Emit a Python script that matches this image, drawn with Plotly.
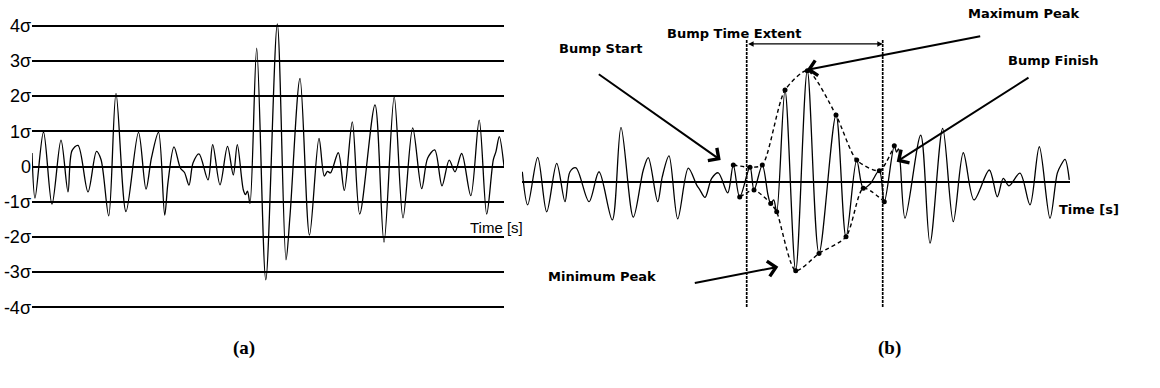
import plotly.graph_objects as go

# ---- (a) signal normalised by its standard deviation ----
sigma_levels = [-4, -3, -2, -1, 0, 1, 2, 3, 4]
sigma_labels = ["-4σ", "-3σ", "-2σ", "-1σ", "0", "1σ", "2σ", "3σ", "4σ"]

t_a = [0.0, 0.3, 1.15, 2.0, 2.9, 3.6, 4.0, 4.6, 5.6, 6.45, 6.9, 7.67, 8.4, 9.4,
       10.65, 11.4, 11.95, 12.65, 13.27, 13.6, 14.2, 14.85, 15.25, 15.7, 16.1,
       16.7, 17.6, 18.07, 18.8, 19.55, 20.13, 20.53, 21.13, 21.35, 21.55, 21.8,
       22.47, 23.38, 24.53, 25.4, 25.8, 26.8, 27.75, 28.7, 29.23, 29.55, 29.85,
       30.63, 31.23, 32.03, 32.77, 34.3, 35.2, 36.22, 37.1, 38.07, 38.97, 39.57,
       40.27, 41.0, 41.72, 42.3, 42.97, 43.88, 44.72, 45.47, 46.13, 46.4, 46.73,
       47.2]
v_a = [0.38, -0.9, 0.98, -1.07, 0.75, -0.72, 0.45, 0.6, -0.72, 0.43, 0.2, -1.4,
       2.08, -1.28, 0.97, -0.64, 0.25, 0.97, -1.38, -0.45, 0.56, -0.05, -0.17,
       -0.53, 0.1, 0.36, -0.38, 0.62, -0.52, 0.57, -0.24, 0.62, -0.66, -0.8,
       -0.7, -1.05, 3.36, -3.22, 4.05, -2.65, -1.4, 2.5, -1.95, 0.8, -0.27,
       -0.14, -0.18, 0.39, -0.68, 1.27, -1.35, 1.75, -2.15, 1.98, -1.46, 1.1,
       -0.63, 0.24, 0.47, -0.55, 0.18, -0.15, 0.37, -0.83, 1.32, -1.35, 0.19,
       0.43, 0.85, 0.0]

# ---- (b) signal containing a bump ----
t_b = [0.03, 0.57, 1.57, 2.47, 3.47, 4.3, 4.8, 5.4, 6.7, 7.7, 9.03, 9.9, 11.13,
       12.13, 12.63, 13.57, 14.03, 14.7, 15.57, 16.63, 17.47, 17.8, 18.3, 18.97,
       19.63, 20.57, 21.13, 21.77, 22.8, 23.2, 24.03, 24.6, 24.87, 25.17, 25.47,
       26.3, 27.37, 28.53, 29.7, 31.4, 32.4, 33.47, 34.13, 34.8, 35.73, 36.23,
       37.23, 37.45, 37.65, 38.3, 39.87, 40.8, 42.07, 43.13, 44.13, 45.2, 46.73,
       47.53, 48.13, 48.7, 49.8, 50.8, 51.73, 52.8, 53.53, 53.9, 54.3, 54.73]
v_b = [0.30, -0.64, 0.71, -0.84, 0.54, -0.55, 0.30, 0.41, -0.55, 0.30, -1.07,
       1.56, -0.99, 0.35, 0.70, -0.55, 0.16, 0.75, -1.04, 0.40, -0.08, -0.22,
       -0.43, 0.11, 0.27, -0.30, 0.49, -0.42, 0.43, -0.22, 0.49, -0.36, -0.60,
       -0.50, -0.84, 2.62, -2.51, 3.17, -2.02, 1.91, -1.55, 0.63, -0.17, -0.05,
       0.33, -0.55, 1.04, 0.86, 0.95, -1.02, 1.34, -1.73, 1.53, -1.12, 0.84,
       -0.50, 0.35, -0.41, 0.11, -0.10, 0.26, -0.64, 1.01, -1.02, 0.26, 0.49,
       0.65, 0.07]

# marked peaks forming the upper and lower envelopes of the bump
upper_t = [21.13, 22.8, 24.03, 26.3, 28.53, 31.4, 33.47, 35.73, 37.23]
upper_v = [0.49, 0.43, 0.49, 2.62, 3.17, 1.91, 0.63, 0.33, 1.04]
lower_t = [21.77, 23.2, 24.87, 25.47, 27.37, 29.7, 32.4, 34.13, 36.23]
lower_v = [-0.42, -0.22, -0.60, -0.84, -2.51, -2.02, -1.55, -0.17, -0.55]

# bump start / finish times and vertical extent of the marker lines
bump_start, bump_finish = 22.47, 36.07
marker_top, marker_bottom = 4.04, -3.54
extent_level = 3.93

# callouts: (label, tail t, tail v, head t, head v)
callouts = [
    ("Bump Start", 7.53, 3.10, 19.87, 0.63),
    ("Maximum Peak", 45.97, 4.16, 28.47, 3.19),
    ("Bump Finish", 50.8, 3.0, 37.47, 0.585),
    ("Minimum Peak", 17.13, -2.87, 25.63, -2.40),
]
# label centres in page fractions
label_pos = {
    "Bump Start": (0.5181, 0.8755),
    "Maximum Peak": (0.8828, 0.9657),
    "Bump Finish": (0.9086, 0.8428),
    "Minimum Peak": (0.5187, 0.2869),
    "Bump Time Extent": (0.6927, 0.9381),
}

W, H = 1160, 388
fig = go.Figure()

fig.add_trace(go.Scatter(x=t_a, y=v_a, mode="lines", xaxis="x", yaxis="y",
                         line=dict(color="black", width=1.3, shape="spline", smoothing=0.9),
                         hoverinfo="skip"))

fig.add_trace(go.Scatter(x=t_b, y=v_b, mode="lines", xaxis="x2", yaxis="y2",
                         line=dict(color="black", width=1.3, shape="spline", smoothing=0.9),
                         hoverinfo="skip"))
for et, ev in ((upper_t, upper_v), (lower_t, lower_v)):
    fig.add_trace(go.Scatter(x=et, y=ev, mode="lines+markers", xaxis="x2", yaxis="y2",
                             line=dict(color="black", width=1.4, dash="4px,3px",
                                       shape="spline", smoothing=0.7),
                             marker=dict(color="black", size=5), hoverinfo="skip"))
for bt in (bump_start, bump_finish):
    fig.add_trace(go.Scatter(x=[bt, bt], y=[marker_top, marker_bottom], mode="lines",
                             xaxis="x2", yaxis="y2",
                             line=dict(color="black", width=1.7, dash="3px,1px"),
                             hoverinfo="skip"))

label_font = dict(family="DejaVu Sans", size=13, color="black")
ann = []
for name, tt, tv, ht, hv in callouts:
    ann.append(dict(x=ht, y=hv, ax=tt, ay=tv, xref="x2", yref="y2", axref="x2", ayref="y2",
                    text="", showarrow=True, arrowhead=4, arrowsize=1.5, arrowwidth=2,
                    arrowcolor="black", standoff=0))
    lx, ly = label_pos[name]
    ann.append(dict(x=lx, y=ly, xref="paper", yref="paper", text="<b>%s</b>" % name,
                    showarrow=False, font=label_font, xanchor="center", yanchor="middle"))
ann.append(dict(x=bump_finish, y=extent_level, ax=bump_start, ay=extent_level,
                xref="x2", yref="y2", axref="x2", ayref="y2", text="", showarrow=True,
                arrowhead=2, arrowside="end+start", arrowsize=0.9, arrowwidth=1.2,
                arrowcolor="black", standoff=0, startstandoff=0))
lx, ly = label_pos["Bump Time Extent"]
ann.append(dict(x=lx, y=ly, xref="paper", yref="paper", text="<b>Bump Time Extent</b>",
                showarrow=False, font=label_font))
ann.append(dict(x=0.9664, y=0.4588, xref="paper", yref="paper", text="<b>Time [s]</b>",
                showarrow=False, font=label_font))
ann.append(dict(x=0.4284, y=0.4124, xref="paper", yref="paper", text="Time [s]",
                showarrow=False, font=dict(family="Liberation Sans", size=15, color="black")))
for txt, px in (("(a)", 0.1991), ("(b)", 0.7784)):
    ann.append(dict(x=px, y=0.0696, xref="paper", yref="paper", text="<b>%s</b>" % txt,
                    showarrow=False,
                    font=dict(family="Liberation Serif", size=19, color="black")))

fig.update_layout(
    width=W, height=H, margin=dict(l=0, r=0, t=0, b=0),
    paper_bgcolor="white", plot_bgcolor="white", showlegend=False,
    xaxis=dict(domain=[32 / W, 504 / W], range=[0, 47.2], visible=False),
    yaxis=dict(domain=[0.16263, 0.97912], range=[-4.5, 4.5], tickvals=sigma_levels,
               ticktext=sigma_labels, showgrid=True, gridcolor="black", gridwidth=2,
               zeroline=False, showline=False, ticks="",
               tickfont=dict(family="Liberation Sans", size=18, color="black")),
    xaxis2=dict(domain=[522 / W, 1070 / W], range=[0, 54.8], visible=False),
    yaxis2=dict(domain=[0.07655, 0.98376], range=[-5, 5], anchor="x2", showgrid=False,
                showticklabels=False, ticks="", zeroline=True, zerolinecolor="black",
                zerolinewidth=1.5, showline=False),
    annotations=ann,
)

fig.write_html("out.html")
